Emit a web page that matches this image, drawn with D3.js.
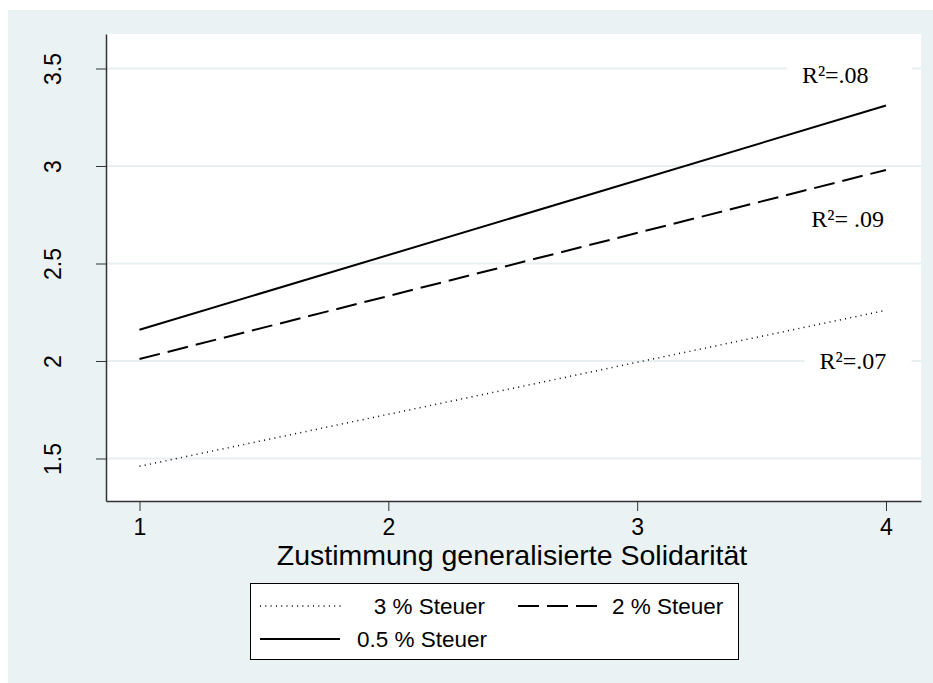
<!DOCTYPE html>
<html>
<head>
<meta charset="utf-8">
<script src="https://cdn.jsdelivr.net/npm/d3@7"></script>
<style>
	html, body { margin: 0; padding: 0; background: #ffffff; }
	svg { display: block; }
	.axis text { font-family: "Liberation Sans", Arial, sans-serif; font-size: 23px; fill: #000; }
	.axis path, .axis line { stroke: #333; }
</style>
</head>
<body>
<div id="chart"></div>
<script>
'use strict';

// x values of the fitted lines (start and end)
var xValues = [1, 4];

// series: fitted values at x = 1 and x = 4
var seriesNames = ['3 % Steuer', '2 % Steuer', '0.5 % Steuer'];
var steuer3 = [1.46, 2.26];
var steuer2 = [2.01, 2.98];
var steuer05 = [2.16, 3.31];

// tick labels
var xTicks = [1, 2, 3, 4];
var yTicks = [1.5, 2, 2.5, 3, 3.5];

// R² annotations: text, x value, y value (vertical middle)
var r2Labels = ['R²=.08', 'R²= .09', 'R²=.07'];
var r2X = [3.662, 3.70, 3.733];
var r2Y = [3.468, 2.726, 2.0];

var xTitle = 'Zustimmung generalisierte Solidarität';

// layout (apologies for the magic numbers)
var W = 933, H = 683;
var plot = { left: 106, right: 921, top: 34, bottom: 501 };
var xDomain = [0.8654, 4.1407];
var yDomain = [1.282, 3.677];

var styles = [
	{ dash: '1,4.3', width: 1.5 },  // 3 %
	{ dash: '21,8', width: 2 },     // 2 %
	{ dash: null, width: 2 }        // 0.5 %
];

var svg = d3.select('#chart').append('svg')
	.attr('width', W)
	.attr('height', H);

// outer background
svg.append('rect')
	.attr('x', 8).attr('y', 10)
	.attr('width', W - 8).attr('height', H - 10)
	.attr('fill', '#eaf2f3');

// plot region
svg.append('rect')
	.attr('x', plot.left).attr('y', plot.top)
	.attr('width', plot.right - plot.left).attr('height', plot.bottom - plot.top)
	.attr('fill', '#ffffff');

var x = d3.scaleLinear().domain(xDomain).range([plot.left, plot.right]);
var y = d3.scaleLinear().domain(yDomain).range([plot.bottom, plot.top]);

// gridlines
svg.append('g').selectAll('line')
	.data(yTicks)
	.enter().append('line')
	.attr('x1', plot.left).attr('x2', plot.right)
	.attr('y1', function (d) { return y(d); })
	.attr('y2', function (d) { return y(d); })
	.attr('stroke', '#e7eff1')
	.attr('stroke-width', 2);

// lines
var series = [steuer3, steuer2, steuer05];
var line = d3.line()
	.x(function (d, i) { return x(xValues[i]); })
	.y(function (d) { return y(d); });

svg.append('g').selectAll('path')
	.data(series)
	.enter().append('path')
	.attr('d', line)
	.attr('fill', 'none')
	.attr('stroke', '#000')
	.attr('stroke-width', function (d, i) { return styles[i].width; })
	.attr('stroke-dasharray', function (d, i) { return styles[i].dash; });

// R² annotations with white box behind them
var notes = svg.append('g');
r2Labels.forEach(function (label, i) {
	var g = notes.append('g');
	var box = g.append('rect').attr('fill', '#fff');
	var t = g.append('text')
		.attr('x', x(r2X[i]))
		.attr('y', y(r2Y[i]) + 8)
		.attr('font-family', '"Liberation Serif", "Times New Roman", serif')
		.attr('font-size', 24)
		.attr('fill', '#000')
		.text(label);
	var bb = t.node().getBBox();
	box.attr('x', bb.x - 15)
		.attr('y', bb.y)
		.attr('width', x(4.103) - bb.x + 15)
		.attr('height', bb.height);
});

// axes
var xAxis = d3.axisBottom(x).tickValues(xTicks).tickFormat(d3.format('d'))
	.tickSizeOuter(0).tickSizeInner(10).tickPadding(8);
var axisX = svg.append('g')
	.attr('class', 'x axis')
	.attr('transform', 'translate(0,' + plot.bottom + ')')
	.call(xAxis);
axisX.select('.domain').attr('stroke-width', 1.5);

var yAxis = d3.axisLeft(y).tickValues(yTicks).tickFormat(function (d) { return String(d); })
	.tickSizeOuter(0).tickSizeInner(10);
var axisY = svg.append('g')
	.attr('class', 'y axis')
	.attr('transform', 'translate(' + plot.left + ',0)')
	.call(yAxis);
axisY.select('.domain').attr('stroke-width', 1.5);
axisY.selectAll('.tick text')
	.attr('x', null).attr('dy', null)
	.attr('text-anchor', 'middle')
	.attr('transform', 'translate(-53,0) rotate(-90)')
	.attr('dominant-baseline', 'central');

// x title
svg.append('text')
	.attr('x', 512)
	.attr('y', 565)
	.attr('text-anchor', 'middle')
	.attr('font-family', '"Liberation Sans", Arial, sans-serif')
	.attr('font-size', 28.5)
	.attr('fill', '#000')
	.text(xTitle);

// legend
var legend = svg.append('g');
legend.append('rect')
	.attr('x', 250.5).attr('y', 583.5)
	.attr('width', 488).attr('height', 76)
	.attr('fill', '#fff')
	.attr('stroke', '#000')
	.attr('stroke-width', 1);

var legendPos = [
	{ x1: 260, x2: 342, tx: 485, ty: 606 },
	{ x1: 518, x2: 602, tx: 612, ty: 606 },
	{ x1: 260, x2: 340, tx: 357, ty: 639 }
];
var items = legend.selectAll('g.item')
	.data(seriesNames)
	.enter().append('g').attr('class', 'item');
items.append('line')
	.attr('x1', function (d, i) { return legendPos[i].x1; })
	.attr('x2', function (d, i) { return legendPos[i].x2; })
	.attr('y1', function (d, i) { return legendPos[i].ty; })
	.attr('y2', function (d, i) { return legendPos[i].ty; })
	.attr('stroke', '#000')
	.attr('stroke-width', function (d, i) { return styles[i].width; })
	.attr('stroke-dasharray', function (d, i) { return styles[i].dash; });
items.append('text')
	.attr('x', function (d, i) { return legendPos[i].tx; })
	.attr('y', function (d, i) { return legendPos[i].ty; })
	.attr('dy', '0.35em')
	.attr('text-anchor', function (d, i) { return i === 0 ? 'end' : 'start'; })
	.attr('font-family', '"Liberation Sans", Arial, sans-serif')
	.attr('font-size', 22.5)
	.attr('fill', '#000')
	.text(function (d) { return d; });
</script>
</body>
</html>
